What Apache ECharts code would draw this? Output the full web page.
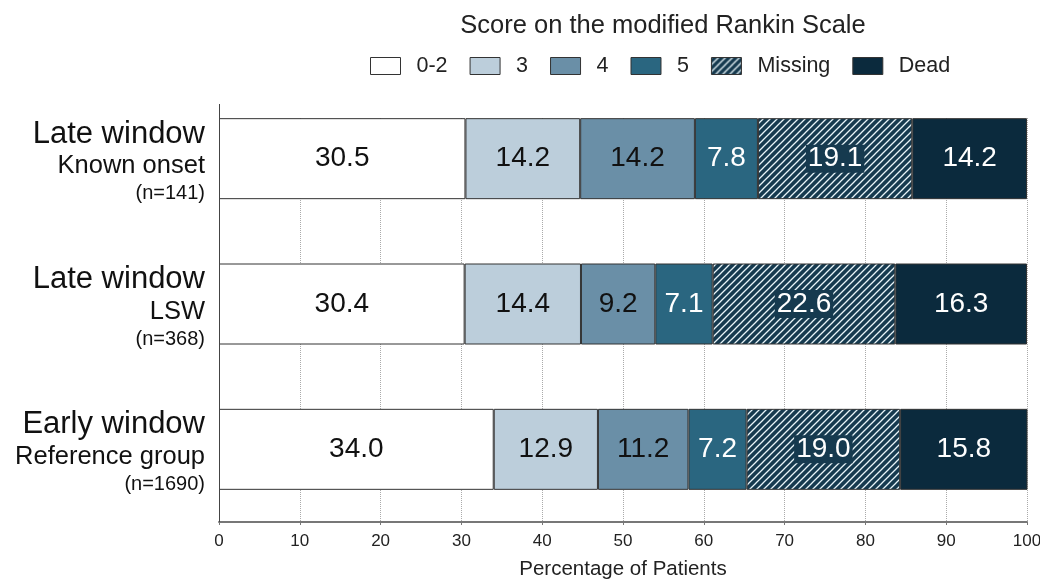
<!DOCTYPE html>
<html>
<head>
<meta charset="utf-8">
<script src="https://cdn.jsdelivr.net/npm/echarts@6.0.0/dist/echarts.min.js"></script>
<style>
  html, body { margin: 0; padding: 0; background: #fff; }
  #chart { width: 1040px; height: 579px; }
</style>
</head>
<body>
<div id="chart"></div>
<script>
const groupNames = ['Late window', 'Late window', 'Early window'];
const subNames = ['Known onset', 'LSW', 'Reference group'];
const nLabels = ['(n=141)', '(n=368)', '(n=1690)'];

const scoreNames = ['0-2', '3', '4', '5', 'Missing', 'Dead'];
const score02 = [30.5, 30.4, 34.0];
const score3 = [14.2, 14.4, 12.9];
const score4 = [14.2, 9.2, 11.2];
const score5 = [7.8, 7.1, 7.2];
const scoreMissing = [19.1, 22.6, 19.0];
const scoreDead = [14.2, 16.3, 15.8];

const xTicks = [0, 10, 20, 30, 40, 50, 60, 70, 80, 90, 100];

const fontFamily = '"Liberation Sans", Arial, sans-serif';
const hatchDark = '#163a4f';

// grid box
const gridLeft = 219;
const gridRight = 13;
const gridTop = 86;
const gridBottom = 57;
const barHeight = 81;

function createHatch() {
  const canvas = document.createElement('canvas');
  const size = 7;
  canvas.width = size;
  canvas.height = size;
  const ctx = canvas.getContext('2d');
  ctx.fillStyle = hatchDark;
  ctx.fillRect(0, 0, size, size);
  ctx.strokeStyle = '#e8f4f8';
  ctx.lineWidth = 1.3;
  ctx.beginPath();
  ctx.moveTo(-1, size + 1);
  ctx.lineTo(size + 1, -1);
  ctx.moveTo(-1, 1);
  ctx.lineTo(1, -1);
  ctx.moveTo(size - 1, size + 1);
  ctx.lineTo(size + 1, size - 1);
  ctx.stroke();
  return { image: canvas, repeat: 'repeat' };
}

const seriesDefs = [
  { name: scoreNames[0], data: score02, color: '#ffffff', text: '#111' },
  { name: scoreNames[1], data: score3, color: '#bccedb', text: '#111' },
  { name: scoreNames[2], data: score4, color: '#6a8fa7', text: '#111' },
  { name: scoreNames[3], data: score5, color: '#2a6680', text: '#fff' },
  { name: scoreNames[4], data: scoreMissing, color: createHatch(), text: '#fff', box: hatchDark },
  { name: scoreNames[5], data: scoreDead, color: '#0b2a3d', text: '#fff' },
];

const chart = echarts.init(document.getElementById('chart'));

// first bar row top edge, used to hide grid lines above it
const bandSize = (579 - gridTop - gridBottom) / groupNames.length;
const firstBarTop = gridTop + bandSize / 2 - barHeight / 2;

chart.setOption({
  animation: false,
  title: {
    text: 'Score on the modified Rankin Scale',
    left: 658,
    textAlign: 'center',
    top: 8,
    textStyle: { fontFamily, fontSize: 25.5, fontWeight: 'normal', color: '#222' },
  },
  legend: {
    data: scoreNames,
    top: 50,
    left: 365,
    icon: 'rect',
    itemWidth: 30,
    itemHeight: 17,
    itemGap: 22,
    textStyle: { fontFamily, fontSize: 21.5, color: '#222', padding: [0, 0, 0, 11] },
    itemStyle: { borderColor: '#333', borderWidth: 1 },
  },
  grid: {
    left: gridLeft, right: gridRight, top: gridTop, bottom: gridBottom,
    containLabel: false, outerBoundsMode: 'none',
  },
  graphic: [
    {
      type: 'rect',
      z: 1,
      shape: { x: gridLeft - 2, y: gridTop - 2, width: 1040 - gridLeft, height: firstBarTop - gridTop + 1 },
      style: { fill: '#fff' },
    },
    {
      type: 'line',
      z: 3,
      shape: { x1: gridLeft + 0.5, y1: 104, x2: gridLeft + 0.5, y2: 579 - gridBottom },
      style: { stroke: '#444', lineWidth: 1 },
    },
  ],
  xAxis: {
    type: 'value',
    min: 0,
    max: 100,
    interval: 10,
    name: 'Percentage of Patients',
    nameLocation: 'middle',
    nameGap: 37,
    nameTextStyle: { fontFamily, fontSize: 20.5, color: '#222' },
    axisLine: { show: true, lineStyle: { color: '#777', width: 2 } },
    axisTick: { show: true, length: 3, lineStyle: { color: '#777' } },
    axisLabel: {
      fontFamily, fontSize: 17, color: '#222', margin: 11,
      formatter: (v) => (xTicks.includes(v) ? String(v) : ''),
    },
    splitLine: { show: true, lineStyle: { color: '#aaa', type: 'dotted', width: 1 } },
  },
  yAxis: {
    type: 'category',
    inverse: true,
    data: groupNames.map((g, i) => i),
    axisLine: { show: false },
    axisTick: { show: false },
    axisLabel: {
      margin: 14,
      align: 'right',
      padding: [6, 0, 0, 0],
      formatter: (i) => `{a|${groupNames[i]}}\n{b|${subNames[i]}}\n{c|${nLabels[i]}}`,
      rich: {
        a: { fontFamily, fontSize: 31, color: '#111', lineHeight: 34, align: 'right' },
        b: { fontFamily, fontSize: 25.5, color: '#111', lineHeight: 30, align: 'right' },
        c: { fontFamily, fontSize: 20, color: '#111', lineHeight: 25, align: 'right' },
      },
    },
  },
  series: seriesDefs.map((s) => ({
    name: s.name,
    type: 'bar',
    stack: 'total',
    barWidth: barHeight,
    data: s.data,
    itemStyle: { color: s.color, borderColor: '#333', borderWidth: 1 },
    label: {
      show: true,
      position: 'inside',
      fontFamily,
      fontSize: 28,
      color: s.text,
      backgroundColor: s.box || 'transparent',
      padding: s.box ? [0, 2] : 0,
      formatter: (p) => p.value.toFixed(1),
    },
  })),
});
</script>
</body>
</html>
